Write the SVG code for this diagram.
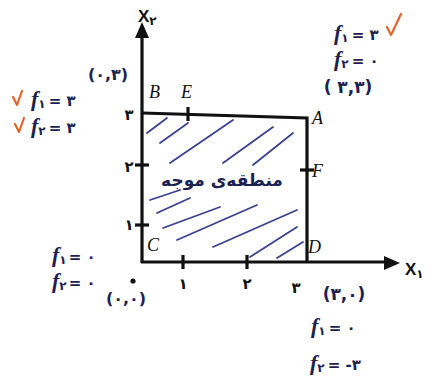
<svg xmlns="http://www.w3.org/2000/svg" width="438" height="383" viewBox="0 0 438 383">
<defs>
<style>
.ink{fill:#1c2150;font-family:"DejaVu Sans",sans-serif;font-weight:bold}
.f{font-family:"Liberation Serif",serif;font-style:italic;font-size:22px;font-weight:bold;fill:#1c2150}
.sub{font-family:"DejaVu Sans",sans-serif;font-size:12px;font-style:normal;font-weight:bold}
.eq{font-family:"DejaVu Sans",sans-serif;font-size:15px;font-style:normal;font-weight:bold}
.pt{font-family:"Liberation Serif",serif;font-style:italic;font-size:18px;fill:#111}
.tick{font-family:"DejaVu Sans",sans-serif;font-size:15px;font-weight:bold;fill:#111}
.ax{stroke:#111;stroke-width:3.2;fill:none}
.hatch{stroke:#3a4190;stroke-width:1.8;fill:none;stroke-linecap:round}
.chk{stroke:#e8632a;stroke-width:2.2;fill:none;stroke-linecap:round;stroke-linejoin:round}
</style>
</defs>
<rect width="438" height="383" fill="#ffffff"/>

<g id="hatching">
<path class="hatch" d="M147,133 L167,118 M160,143 L188,123 M170,163 L233,120 M223,163 L273,127 M253,165 L293,133 M150,200 L180,190 M157,213 L190,198 M163,228 L220,207 M177,240 L257,205 M213,247 L297,210 M250,257 L297,227 M277,258 L303,242"/>
</g>

<g id="axes">
<line class="ax" x1="142" y1="263" x2="142" y2="34"/>
<path d="M142,22 L135,38 L149,38 Z" fill="#111"/>
<line class="ax" x1="141" y1="262" x2="388" y2="262"/>
<path d="M400,263 L384,256 L384,270 Z" fill="#111"/>
<text x="138" y="22" class="pt" style="font-size:17px;font-weight:bold;font-style:normal;font-family:'Liberation Sans',sans-serif">X<tspan class="sub" dy="3">۲</tspan></text>
<text x="405" y="275" class="pt" style="font-size:17px;font-weight:bold;font-style:normal;font-family:'Liberation Sans',sans-serif">X<tspan class="sub" dy="3">۱</tspan></text>
</g>

<g id="region">
<path class="ax" d="M142,113 L307,118 L307,262"/>
<line class="ax" x1="188" y1="107" x2="188" y2="121" stroke-width="2"/>
<line class="ax" x1="300" y1="170" x2="314" y2="170" stroke-width="2"/>
<text x="222" y="186" class="ink" font-size="17" text-anchor="middle" direction="rtl">منطقه‌ی موجه</text>
</g>

<g id="ticks">
<line class="ax" x1="135" y1="165" x2="149" y2="165" stroke-width="2"/>
<line class="ax" x1="135" y1="225" x2="149" y2="225" stroke-width="2"/>
<line class="ax" x1="183" y1="255" x2="183" y2="269" stroke-width="2"/>
<line class="ax" x1="247" y1="255" x2="247" y2="269" stroke-width="2"/>
<text x="129" y="120" class="tick" text-anchor="middle">۳</text>
<text x="129" y="172" class="tick" text-anchor="middle">۲</text>
<text x="129" y="230" class="tick" text-anchor="middle">۱</text>
<text x="183" y="289" class="tick" text-anchor="middle">۱</text>
<text x="247" y="289" class="tick" text-anchor="middle">۲</text>
<text x="296" y="293" class="tick" text-anchor="middle">۳</text>
</g>

<g id="labels">
<text x="149" y="98" class="pt">B</text>
<text x="181" y="98" class="pt">E</text>
<text x="312" y="124" class="pt">A</text>
<text x="312" y="177" class="pt">F</text>
<text x="308" y="253" class="pt">D</text>
<text x="147" y="251" class="pt">C</text>
</g>

<g id="point-B">
<text x="108" y="80" class="ink" font-size="16" text-anchor="middle">(۰,۳)</text>
<path class="chk" d="M13,97 L17,105 L22,91"/>
<text x="31" y="106" class="f">f<tspan class="sub" dy="2">۱</tspan><tspan class="eq" dy="-2" dx="3">= ۳</tspan></text>
<path class="chk" d="M15,124 L19,132 L24,118"/>
<text x="31" y="133" class="f">f<tspan class="sub" dy="2">۲</tspan><tspan class="eq" dy="-2" dx="3">= ۳</tspan></text>
</g>

<g id="point-A">
<text x="334" y="40" class="f">f<tspan class="sub" dy="2">۱</tspan><tspan class="eq" dy="-2" dx="3">= ۳</tspan></text>
<path class="chk" d="M387,27 L391,35 L401,14"/>
<text x="334" y="66" class="f">f<tspan class="sub" dy="2">۲</tspan><tspan class="eq" dy="-2" dx="3">= ۰</tspan></text>
<text x="348" y="93" class="ink" font-size="17" text-anchor="middle">( ۳,۳)</text>
</g>

<g id="point-C">
<text x="52" y="262" class="f">f<tspan class="sub" dy="2">۱</tspan><tspan class="eq" dy="-2" dx="2">= ۰</tspan></text>
<text x="52" y="288" class="f">f<tspan class="sub" dy="2">۲</tspan><tspan class="eq" dy="-2" dx="2">= ۰</tspan></text>
<circle cx="133" cy="281" r="2.6" fill="#111"/>
<text x="126" y="304" class="ink" font-size="16" text-anchor="middle">(۰,۰)</text>
</g>

<g id="point-D">
<text x="344" y="300" class="ink" font-size="17" text-anchor="middle">(۳,۰)</text>
<text x="311" y="333" class="f">f<tspan class="sub" dy="2">۱</tspan><tspan class="eq" dy="-2" dx="3">= ۰</tspan></text>
<text x="310" y="370" class="f">f<tspan class="sub" dy="2">۲</tspan><tspan class="eq" dy="-2" dx="3">= -۳</tspan></text>
</g>
</svg>
